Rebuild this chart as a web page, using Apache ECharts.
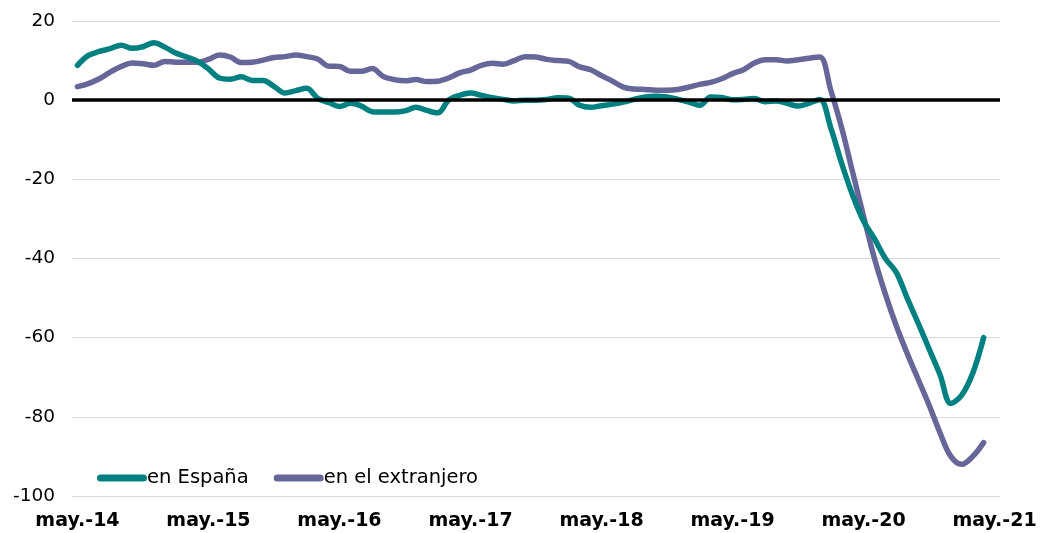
<!DOCTYPE html>
<html>
<head>
<meta charset="utf-8">
<script src="https://cdn.jsdelivr.net/npm/echarts@6/dist/echarts.min.js"></script>
<style>
html,body{margin:0;padding:0;background:#fff;}
#chart{width:1040px;height:533px;}
</style>
</head>
<body>
<div id="chart"></div>
<script>
// Monthly index 0 = may-14 ... 83 = apr-21; tick labels every 12 months
const tickLabels = ['may.-14','may.-15','may.-16','may.-17','may.-18','may.-19','may.-20','may.-21'];
const tickPositions = [0,12,24,36,48,60,72,84];

const enEspana = [
  8.8,11.3,12.3,13.0,13.9,13.1,13.5,14.5,13.4,11.9,10.9,9.8,
  7.9,5.6,5.3,5.9,5.0,5.0,3.5,1.8,2.4,3.0,0.5,-0.6,
  -1.6,-0.8,-1.5,-2.9,-3.0,-3.0,-2.7,-1.8,-2.6,-3.2,0.0,1.2,
  1.8,1.2,0.6,0.2,-0.2,0.0,0.0,0.2,0.6,0.5,-1.3,-1.8,
  -1.4,-1.0,-0.5,0.2,0.8,1.0,0.8,0.2,-0.5,-1.3,0.8,0.7,
  0.1,0.2,0.4,-0.4,-0.2,-0.8,-1.5,-0.8,0.2,-7.0,-16.0,-24.0,
  -30.5,-35.0,-40.0,-43.5,-50.0,-56.3,-62.8,-69.3,-76.6,-74.5,-69.0,-60.0
];
const enExtranjero = [
  3.4,4.2,5.4,7.1,8.5,9.4,9.2,8.8,9.8,9.6,9.6,9.6,
  10.3,11.4,10.9,9.5,9.6,10.1,10.8,11.0,11.4,11.0,10.4,8.6,
  8.5,7.3,7.3,8.0,6.0,5.2,4.9,5.2,4.7,4.8,5.6,6.9,
  7.6,8.8,9.3,9.1,10.0,11.0,10.9,10.3,10.0,9.8,8.4,7.7,
  6.2,4.8,3.3,2.8,2.7,2.5,2.5,2.7,3.3,4.0,4.5,5.4,
  6.7,7.7,9.4,10.2,10.2,9.9,10.2,10.6,10.9,2.5,-7.0,-18.2,
  -29.3,-40.0,-49.0,-57.0,-64.0,-70.5,-77.0,-84.0,-90.0,-92.0,-90.0,-86.5
];
const seriesNames = ['en España','en el extranjero'];
const seriesColors = ['#008080','#666699'];

const toPairs = arr => arr.map((v,i)=>[i,v]);
const labelMap = {};
tickPositions.forEach((p,k)=>labelMap[p]=tickLabels[k]);

const capsule = 'path://M3.5,0 L46.5,0 A3.5,3.5 0 0 1 46.5,7 L3.5,7 A3.5,3.5 0 0 1 3.5,0 Z';

const chart = echarts.init(document.getElementById('chart'), null, {renderer:'canvas'});
chart.setOption({
  animation:false,
  backgroundColor:'#ffffff',
  textStyle:{fontFamily:'DejaVu Sans'},
  grid:{left:72,right:40,top:21,bottom:37,containLabel:false},
  legend:{
    left:92, top:463, itemWidth:50, itemHeight:7, itemGap:25, icon:capsule,
    data:seriesNames,
    textStyle:{fontFamily:'DejaVu Sans',fontSize:19.5,color:'#000',padding:[0,0,0,-5]}
  },
  xAxis:{
    type:'value', min:-0.5, max:84.5,
    axisLine:{show:false}, axisTick:{show:false}, splitLine:{show:false},
    axisLabel:{
      customValues:tickPositions,
      formatter:v=>labelMap[Math.round(v)]||'',
      fontFamily:'DejaVu Sans', fontWeight:'bold', fontSize:19, color:'#000', margin:16
    }
  },
  yAxis:{
    type:'value', min:-100, max:20, interval:20,
    axisLine:{show:false}, axisTick:{show:false},
    axisLabel:{fontFamily:'DejaVu Sans', fontSize:18.5, color:'#000', margin:17},
    splitLine:{lineStyle:{color:'#d9d9d9',width:1}}
  },
  series:[
    {
      type:'line', name:'_zero', data:[], z:1, silent:true,
      markLine:{silent:true, symbol:'none', label:{show:false},
        lineStyle:{color:'#000',width:3.5,type:'solid'}, data:[{yAxis:0}]}
    },
    {
      type:'line', name:seriesNames[0], data:toPairs(enEspana), z:3,
      smooth:0.35, showSymbol:false, symbol:'none',
      color:seriesColors[0],
      lineStyle:{color:seriesColors[0],width:5.5,cap:'round',join:'round'}
    },
    {
      type:'line', name:seriesNames[1], data:toPairs(enExtranjero), z:2,
      smooth:0.35, showSymbol:false, symbol:'none',
      color:seriesColors[1],
      lineStyle:{color:seriesColors[1],width:5.5,cap:'round',join:'round'}
    }
  ]
});
</script>
</body>
</html>
